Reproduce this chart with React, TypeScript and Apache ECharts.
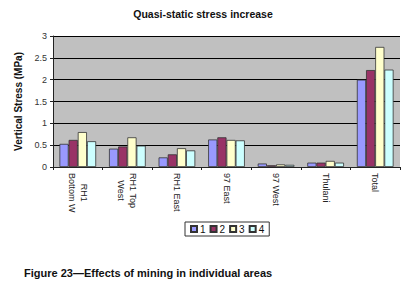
import React, { useEffect, useRef } from "react";
import * as echarts from "echarts";

const categories = ["RH1\nBottom W", "RH1 Top\nWest", "RH1 East", "97 East", "97 West", "Thulani", "Total"];
const seriesNames = ["1", "2", "3", "4"];
const series1 = [0.53, 0.42, 0.22, 0.63, 0.08, 0.1, 2.0];
const series2 = [0.62, 0.47, 0.29, 0.68, 0.04, 0.1, 2.22];
const series3 = [0.8, 0.68, 0.43, 0.62, 0.06, 0.14, 2.75];
const series4 = [0.59, 0.49, 0.38, 0.61, 0.05, 0.1, 2.23];
const colors = ["#9999FF", "#993366", "#FFFFCC", "#CCFFFF"];

export default function App() {
  const ref = useRef<HTMLDivElement>(null);
  useEffect(() => {
    document.body.style.margin = "0";
    const chart = echarts.init(ref.current!, null, { renderer: "svg" });
    const font = "Liberation Sans, Arial, sans-serif";
    const data = [series1, series2, series3, series4];
    chart.setOption({
      animation: false,
      backgroundColor: "#fff",
      textStyle: { fontFamily: font },
      title: [
        {
          text: "Quasi-static stress increase",
          left: "center",
          top: 3,
          textStyle: { fontSize: 10.5, fontWeight: "bold", color: "#111", fontFamily: font },
        },
        {
          text: "Figure 23\u2014Effects of mining in individual areas",
          left: 19,
          top: 262,
          textStyle: { fontSize: 11, fontWeight: "bold", color: "#111", fontFamily: font },
        },
      ],
      legend: {
        data: seriesNames,
        left: 185,
        top: 222,
        orient: "horizontal",
        borderColor: "#333",
        borderWidth: 1,
        padding: [2, 5, 2, 5],
        itemWidth: 6,
        itemHeight: 6,
        itemGap: 4,
        icon: "rect",
        textStyle: { fontSize: 10, color: "#111", padding: [0, 0, 0, -2] },
      },
      grid: {
        left: 53,
        right: 6,
        top: 36,
        bottom: 119,
        show: true,
        backgroundColor: "#C0C0C0",
        borderWidth: 0,
      },
      xAxis: {
        type: "category",
        data: categories,
        axisLine: { lineStyle: { color: "#222", width: 1 } },
        axisTick: { show: true, length: 3, lineStyle: { color: "#222" } },
        axisLabel: {
          rotate: -90,
          margin: 6,
          interval: 0,
          fontSize: 9,
          color: "#222",
          lineHeight: 12,
          formatter: (v: string) => v.split("\n").map((l) => `{c|${l}}`).join("\n"),
          rich: { c: { align: "center", fontSize: 9, color: "#222", lineHeight: 12 } },
        },
      },
      yAxis: {
        type: "value",
        min: 0,
        max: 3,
        interval: 0.5,
        name: "Vertical Stress (MPa)",
        nameLocation: "middle",
        nameGap: 22,
        nameTextStyle: { fontSize: 10, fontWeight: "bold", color: "#111" },
        axisLine: { show: true, lineStyle: { color: "#222", width: 1 } },
        axisTick: { show: true, length: 3, lineStyle: { color: "#222" } },
        axisLabel: { fontSize: 9, color: "#333", margin: 6 },
        splitLine: { show: true, lineStyle: { color: "#000", width: 1 } },
      },
      series: seriesNames.map((n, i) => ({
        name: n,
        type: "bar",
        data: data[i],
        barGap: "0%",
        barCategoryGap: "26%",
        itemStyle: { color: colors[i], borderColor: "#333", borderWidth: 0.8 },
      })),
    });
    return () => chart.dispose();
  }, []);
  return <div ref={ref} style={{ position: "absolute", left: 0, top: 0, width: 406, height: 286 }} />;
}
